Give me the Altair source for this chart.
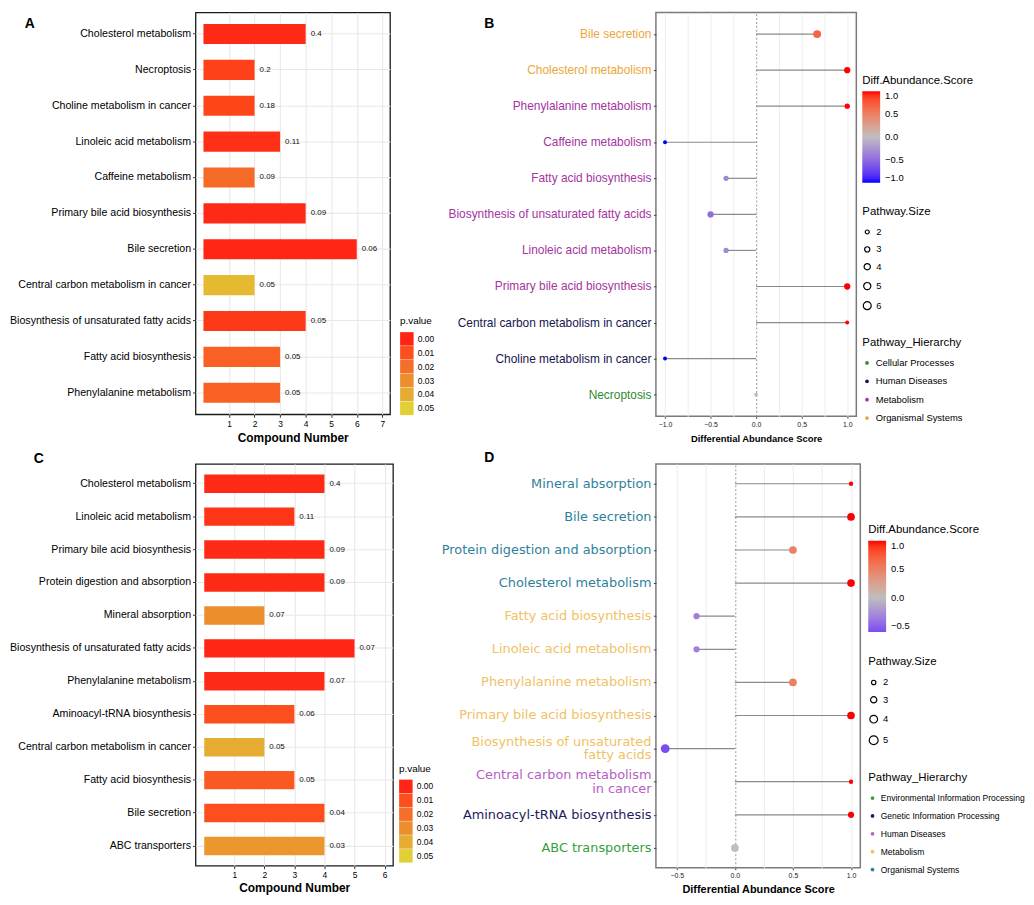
import altair as alt
import pandas as pd

FONT = "Liberation Sans"

# ---------------- Panel A (bar chart) ----------------
a_pathways = [
    "Cholesterol metabolism", "Necroptosis", "Choline metabolism in cancer",
    "Linoleic acid metabolism", "Caffeine metabolism", "Primary bile acid biosynthesis",
    "Bile secretion", "Central carbon metabolism in cancer",
    "Biosynthesis of unsaturated fatty acids", "Fatty acid biosynthesis",
    "Phenylalanine metabolism",
]
a_compounds = [4, 2, 2, 3, 2, 4, 6, 2, 4, 3, 3]
a_values = ["0.4", "0.2", "0.18", "0.11", "0.09", "0.09", "0.06", "0.05", "0.05", "0.05", "0.05"]
a_pvalues = [0.001, 0.006, 0.007, 0.002, 0.018, 0.001, 0.0005, 0.044, 0.004, 0.015, 0.015]
a_ticks = [1, 2, 3, 4, 5, 6, 7]

# ---------------- Panel B (lollipop) ----------------
b_pathways = [
    "Bile secretion", "Cholesterol metabolism", "Phenylalanine metabolism",
    "Caffeine metabolism", "Fatty acid biosynthesis",
    "Biosynthesis of unsaturated fatty acids", "Linoleic acid metabolism",
    "Primary bile acid biosynthesis", "Central carbon metabolism in cancer",
    "Choline metabolism in cancer", "Necroptosis",
]
b_scores = [0.67, 1.0, 1.0, -1.0, -0.33, -0.5, -0.33, 1.0, 1.0, -1.0, 0.0]
b_sizes = [6, 4, 3, 2, 3, 4, 3, 4, 2, 2, 2]
b_hierarchy = [
    "Organismal Systems", "Organismal Systems", "Metabolism", "Metabolism", "Metabolism",
    "Metabolism", "Metabolism", "Metabolism", "Human Diseases", "Human Diseases",
    "Cellular Processes",
]
b_hier_levels = ["Cellular Processes", "Human Diseases", "Metabolism", "Organismal Systems"]
b_hier_colors = ["#2f8a2f", "#15154f", "#a4349f", "#eaa73a"]
b_size_levels = [2, 3, 4, 5, 6]
b_grid = [-1.0, -0.75, -0.5, -0.25, 0.0, 0.25, 0.5, 0.75, 1.0]

# ---------------- Panel C (bar chart) ----------------
c_pathways = [
    "Cholesterol metabolism", "Linoleic acid metabolism", "Primary bile acid biosynthesis",
    "Protein digestion and absorption", "Mineral absorption",
    "Biosynthesis of unsaturated fatty acids", "Phenylalanine metabolism",
    "Aminoacyl-tRNA biosynthesis", "Central carbon metabolism in cancer",
    "Fatty acid biosynthesis", "Bile secretion", "ABC transporters",
]
c_compounds = [4, 3, 4, 4, 2, 5, 4, 3, 2, 3, 4, 4]
c_values = ["0.4", "0.11", "0.09", "0.09", "0.07", "0.07", "0.07", "0.06", "0.05", "0.05", "0.04", "0.03"]
c_pvalues = [0.001, 0.003, 0.001, 0.001, 0.03, 0.0005, 0.001, 0.01, 0.04, 0.013, 0.01, 0.033]
c_ticks = [1, 2, 3, 4, 5, 6]

# ---------------- Panel D (lollipop) ----------------
d_pathways = [
    "Mineral absorption", "Bile secretion", "Protein digestion and absorption",
    "Cholesterol metabolism", "Fatty acid biosynthesis", "Linoleic acid metabolism",
    "Phenylalanine metabolism", "Primary bile acid biosynthesis",
    "Biosynthesis of unsaturated\nfatty acids", "Central carbon metabolism\nin cancer",
    "Aminoacyl-tRNA biosynthesis", "ABC transporters",
]
d_scores = [1.0, 1.0, 0.5, 1.0, -0.33, -0.33, 0.5, 1.0, -0.6, 1.0, 1.0, 0.0]
d_sizes = [2, 4, 4, 4, 3, 3, 4, 4, 5, 2, 3, 4]
d_hierarchy = [
    "Organismal Systems", "Organismal Systems", "Organismal Systems", "Organismal Systems",
    "Metabolism", "Metabolism", "Metabolism", "Metabolism", "Metabolism",
    "Human Diseases", "Genetic Information Processing", "Environmental Information Processing",
]
d_hier_levels = [
    "Environmental Information Processing", "Genetic Information Processing",
    "Human Diseases", "Metabolism", "Organismal Systems",
]
d_hier_colors = ["#36a03a", "#1b1b5e", "#b560c4", "#efc266", "#2f7f9c"]
d_size_levels = [2, 3, 4, 5]
d_grid = [-0.5, -0.25, 0.0, 0.25, 0.5, 0.75, 1.0]

# p.value colour key shared by the bar panels
pval_levels = [0.0, 0.01, 0.02, 0.03, 0.04, 0.05]
pval_colors = ["#ff2414", "#fd4f1e", "#f4702a", "#ec8d2e", "#e6ac32", "#e0cf35"]


def letter_title(letter, dx, dy):
    return alt.TitleParams(
        letter, anchor="start", frame="group", orient="top", dx=dx, dy=dy, offset=0,
        baseline="alphabetic", font=FONT, fontSize=14, fontWeight="bold", color="#000",
    )


def bar_panel(pathways, compounds, values, pvalues, ticks, x_domain, width, height,
              letter, letter_dx, letter_dy, leg_x, leg_y, title_pad, label_size):
    df = pd.DataFrame({"Pathway": pathways, "Compound": compounds,
                       "Value": values, "p": pvalues})
    y = alt.Y(
        "Pathway:N", sort=pathways, title=None,
        scale=alt.Scale(paddingInner=0.44, paddingOuter=0.32),
        axis=alt.Axis(labelFont=FONT, labelFontSize=label_size, labelColor="#000",
                      labelPadding=2, labelLimit=400, tickSize=3, tickColor="#333",
                      domain=False, grid=True, gridColor="#e8e8e8", gridWidth=1.1),
    )
    x = alt.X(
        "Compound:Q", title="Compound Number",
        scale=alt.Scale(domain=x_domain, nice=False),
        axis=alt.Axis(values=ticks, format="d", labelFont=FONT, labelFontSize=8.5,
                      labelColor="#000", labelPadding=2, labelOverlap=False,
                      labelSeparation=0, labelBound=False,
                      tickSize=3, tickColor="#333",
                      domain=False, grid=True, gridColor="#e8e8e8", gridWidth=1.1,
                      titleFont=FONT, titleFontSize=12, titleFontWeight="bold",
                      titleColor="#000", titlePadding=title_pad),
    )
    color = alt.Color(
        "p:Q", scale=alt.Scale(domain=pval_levels, range=pval_colors),
        legend=alt.Legend(
            title="p.value", type="symbol", values=pval_levels, format=".2f",
            symbolType="square", symbolSize=185, symbolStrokeWidth=0, symbolOpacity=1,
            orient="none", legendX=leg_x, legendY=leg_y,
            titleFont=FONT, titleFontSize=10, titleFontWeight="normal", titleColor="#000",
            labelFont=FONT, labelFontSize=8.5, labelColor="#000",
            rowPadding=0, titlePadding=6,
        ),
    )
    bars = alt.Chart(df).mark_bar(opacity=1).encode(y=y, x=x, color=color)
    labels = alt.Chart(df).mark_text(
        align="left", baseline="middle", dx=5, font=FONT, fontSize=8, color="#111"
    ).encode(y=y, x=x, text="Value:N")
    return alt.layer(bars, labels).properties(
        width=width, height=height, title=letter_title(letter, letter_dx, letter_dy),
        view=alt.ViewBackground(stroke="#1a1a1a", strokeWidth=1.3),
    )


HALF = "abs(datum.value * 2 - round(datum.value * 2)) < 0.000001"
MULTI = "indexof(datum.Pathway, '\\n') >= 0"


def lollipop_panel(pathways, scores, sizes, hierarchy, hier_levels, hier_colors,
                   x_domain, grid_values, width, height, letter, letter_dx, letter_dy,
                   label_font, label_size, label_line_height,
                   grad_domain, grad_range, grad_values, size_levels, size_range,
                   leg_x, leg_y_grad, leg_y_size, leg_y_hier, hier_label_size,
                   hier_row_pad, hier_title_pad, title_size, title_pad):
    df = pd.DataFrame({"Pathway": pathways, "Score": scores, "Size": sizes,
                       "Hierarchy": hierarchy})
    y = alt.Y(
        "Pathway:N", sort=pathways, title=None,
        scale=alt.Scale(type="point", padding=0.6),
        axis=alt.Axis(labels=False, tickSize=2.5, tickColor="#444", domain=False, grid=False),
    )
    x = alt.X(
        "Score:Q", title="Differential Abundance Score",
        scale=alt.Scale(domain=x_domain, nice=False, zero=False),
        axis=alt.Axis(
            values=grid_values,
            labelExpr=f"{HALF} ? format(datum.value, '.1f') : ''",
            labelFont=FONT, labelFontSize=7, labelColor="#222", labelPadding=2,
            labelOverlap=False, tickSize=2, tickColor="#444",
            tickOpacity={"condition": {"test": HALF, "value": 1}, "value": 0},
            domain=False, grid=True, gridWidth=1.1,
            gridColor={"condition": {"test": "datum.value === 0", "value": "#a0a0a0"},
                       "value": "#eeeeee"},
            gridDash={"condition": {"test": "datum.value === 0", "value": [2, 2]},
                      "value": []},
            titleFont=FONT, titleFontSize=title_size, titleFontWeight="bold",
            titleColor="#000", titlePadding=title_pad,
        ),
    )
    rules = alt.Chart(df).mark_rule(color="#8a8a8a", strokeWidth=1.2).encode(
        y=y, x=x, x2=alt.datum(0)
    )
    points = alt.Chart(df).mark_circle(opacity=1).encode(
        y=y, x=x,
        fill=alt.Fill(
            "Score:Q",
            scale=alt.Scale(domain=grad_domain, range=grad_range, interpolate="lab"),
            legend=alt.Legend(
                title="Diff.Abundance.Score", orient="none", legendX=leg_x, legendY=leg_y_grad,
                direction="vertical", gradientLength=92, gradientThickness=18,
                gradientStrokeWidth=0, values=grad_values, format=".1f",
                titleFont=FONT, titleFontSize=11.5, titleFontWeight="normal",
                titleColor="#000", titlePadding=5,
                labelFont=FONT, labelFontSize=9.5, labelColor="#000", labelOffset=5,
            ),
        ),
        size=alt.Size(
            "Size:Q",
            scale=alt.Scale(domain=[size_levels[0], size_levels[-1]], range=size_range),
            legend=alt.Legend(
                title="Pathway.Size", orient="none", legendX=leg_x, legendY=leg_y_size,
                values=size_levels, format="d", symbolType="circle", symbolFillColor="white",
                symbolStrokeColor="#000", symbolStrokeWidth=1.2, symbolOpacity=1,
                titleFont=FONT, titleFontSize=11.5, titleFontWeight="normal",
                titleColor="#000", titlePadding=10,
                labelFont=FONT, labelFontSize=9.5, labelColor="#000", rowPadding=6.5,
            ),
        ),
    )
    hier_color = alt.Color(
        "Hierarchy:N", scale=alt.Scale(domain=hier_levels, range=hier_colors),
        legend=alt.Legend(
            title="Pathway_Hierarchy", orient="none", legendX=leg_x, legendY=leg_y_hier,
            symbolType="circle", symbolSize=14, symbolOpacity=1,
            titleFont=FONT, titleFontSize=11.5, titleFontWeight="normal",
            titleColor="#000", titlePadding=hier_title_pad, labelLimit=400,
            labelFont=FONT, labelFontSize=hier_label_size, labelColor="#000",
            rowPadding=hier_row_pad,
        ),
    )
    text_style = dict(align="right", baseline="middle", font=label_font,
                      fontSize=label_size, lineBreak="\n", lineHeight=label_line_height)
    labels_single = alt.Chart(df).transform_filter(f"!({MULTI})").mark_text(
        dx=-4.5, **text_style
    ).encode(y=y, x=alt.value(0), text="Pathway:N", color=hier_color)
    labels_multi = alt.Chart(df).transform_filter(MULTI).mark_text(
        dx=-4.5, dy=-label_line_height / 2, **text_style
    ).encode(y=y, x=alt.value(0), text="Pathway:N", color=hier_color)
    return alt.layer(rules, points, labels_single, labels_multi).properties(
        width=width, height=height, title=letter_title(letter, letter_dx, letter_dy),
        view=alt.ViewBackground(stroke="#7a7a7a", strokeWidth=1.5),
    )


panel_a = bar_panel(a_pathways, a_compounds, a_values, a_pvalues, a_ticks, [-0.31, 7.3],
                    196, 405, "A", -172, 30, 206, 306, 5, 10.7)
panel_b = lollipop_panel(
    b_pathways, b_scores, b_sizes, b_hierarchy, b_hier_levels, b_hier_colors,
    [-1.1, 1.1], b_grid, 202, 407, "B", -173, 30, FONT, 12, 12,
    [-1, 0, 1], ["#0000ff", "#bebebe", "#ff0000"], [1.0, 0.5, 0.0, -0.5, -1.0],
    b_size_levels, [16, 64], 208, 63, 195, 327, 9.5, 7.5, 10, 9.5, 6,
)
panel_c = bar_panel(c_pathways, c_compounds, c_values, c_pvalues, c_ticks, [-0.29, 6.28],
                    199, 405, "C", -163, 13, 205, 302, 3, 10.7)
panel_d = lollipop_panel(
    d_pathways, d_scores, d_sizes, d_hierarchy, d_hier_levels, d_hier_colors,
    [-0.68, 1.08], d_grid, 206, 407, "D", -173, 12, "DejaVu Sans", 13, 14,
    [-0.6, 0, 1], ["#7a4cf2", "#bebebe", "#ff0000"], [1.0, 0.5, 0.0, -0.5],
    d_size_levels, [20, 80], 214, 61, 194, 311, 8.6, 9, 10, 11, 5,
)

chart = alt.concat(
    panel_a, panel_b, panel_c, panel_d, columns=2,
    spacing=alt.RowColnumber(row=48, column=265), bounds="flush",
).resolve_scale(
    x="independent", y="independent", color="independent", fill="independent",
    size="independent"
).properties(padding=0, background="white").configure(font=FONT)

chart.save("out.html", embed_options={"renderer": "svg", "actions": False})
